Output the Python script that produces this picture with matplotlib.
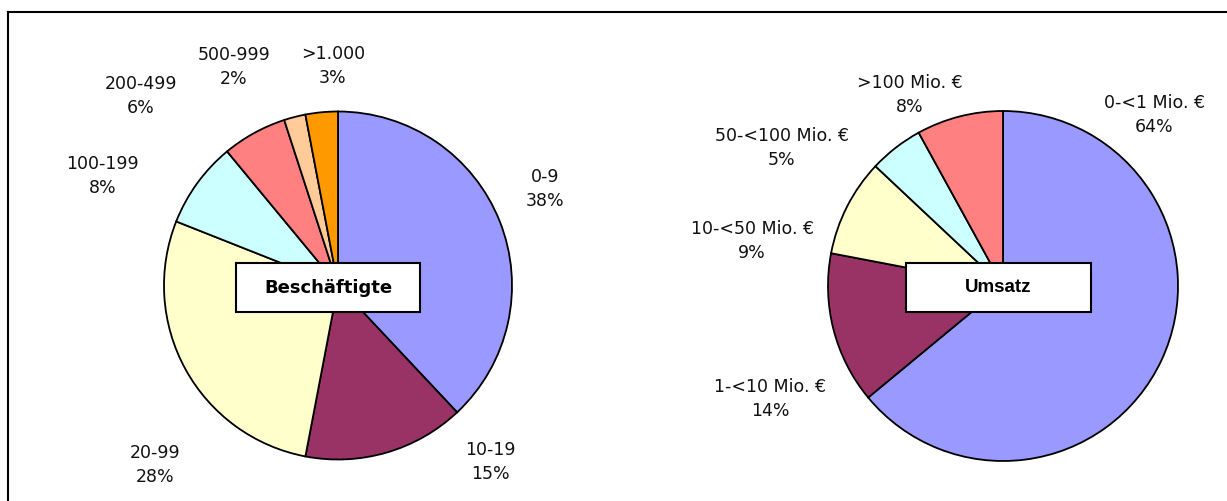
import matplotlib.pyplot as plt
from matplotlib.patches import Rectangle
from matplotlib.lines import Line2D

W, H = 1227, 501

# Beschäftigte (employees)
emp_labels = ["0-9", "10-19", "20-99", "100-199", "200-499", "500-999", ">1.000"]
emp_values = [38, 15, 28, 8, 6, 2, 3]
emp_colors = ["#9999FF", "#993366", "#FFFFCC", "#CCFFFF", "#FF8080", "#FFCC99", "#FF9900"]

# Umsatz (turnover)
rev_labels = ["0-<1 Mio. €", "1-<10 Mio. €", "10-<50 Mio. €", "50-<100 Mio. €", ">100 Mio. €"]
rev_values = [64, 14, 9, 5, 8]
rev_colors = ["#9999FF", "#993366", "#FFFFCC", "#CCFFFF", "#FF8080"]

# where Excel put the labels, in pie-radius units
emp_spots = [(1.19, 0.555), (0.874, -1.014), (-1.052, -1.032), (-1.351, 0.629),
             (-1.132, 1.089), (-0.598, 1.256), (-0.029, 1.261)]
rev_spots = [(0.863, 0.977), (-1.331, -0.646), (-1.434, 0.257), (-1.263, 0.789),
             (-0.531, 1.091)]

LIM = 1.7

fig = plt.figure(figsize=(W / 100, H / 100), dpi=100)


def pie_axes(cx, cy, r):
    size = 2 * LIM * r
    return fig.add_axes([(cx - LIM * r) / W, (H - cy - LIM * r) / H, size / W, size / H])


def draw_pie(ax, values, labels, colors, spots, title, box, title_font):
    ax.pie(values, colors=colors, startangle=90, counterclock=False,
           wedgeprops=dict(edgecolor="black", linewidth=1.3))
    ax.set_xlim(-LIM, LIM)
    ax.set_ylim(-LIM, LIM)
    for lab, v, (x, y) in zip(labels, values, spots):
        ax.text(x, y, f"{lab}\n{v}%", ha="center", va="center", fontsize=12.5,
                linespacing=1.4, color="#111111")
    x0, x1, y0, y1 = box
    ax.add_patch(Rectangle((x0, y0), x1 - x0, y1 - y0, facecolor="white",
                           edgecolor="black", linewidth=1.5, zorder=5, clip_on=False))
    ax.text((x0 + x1) / 2, (y0 + y1) / 2, title, ha="center", va="center",
            fontweight="bold", zorder=6, **title_font)


ax1 = pie_axes(338, 285.5, 174)
draw_pie(ax1, emp_values, emp_labels, emp_colors, emp_spots, "Beschäftigte",
         (-0.586, 0.471, -0.152, 0.129), dict(fontsize=13, family="DejaVu Sans"))

ax2 = pie_axes(1003, 286, 175)
draw_pie(ax2, rev_values, rev_labels, rev_colors, rev_spots, "Umsatz",
         (-0.554, 0.503, -0.149, 0.131), dict(fontsize=13.5, family="Liberation Sans"))

# outer frame (only top and left edges are visible)
fig.add_artist(Line2D([8 / W, 1], [1 - 11.5 / H] * 2, transform=fig.transFigure,
                      color="black", linewidth=1.5))
fig.add_artist(Line2D([8 / W] * 2, [0, 1 - 11.5 / H], transform=fig.transFigure,
                      color="black", linewidth=1.5))

fig.savefig("out.png", dpi=100)
